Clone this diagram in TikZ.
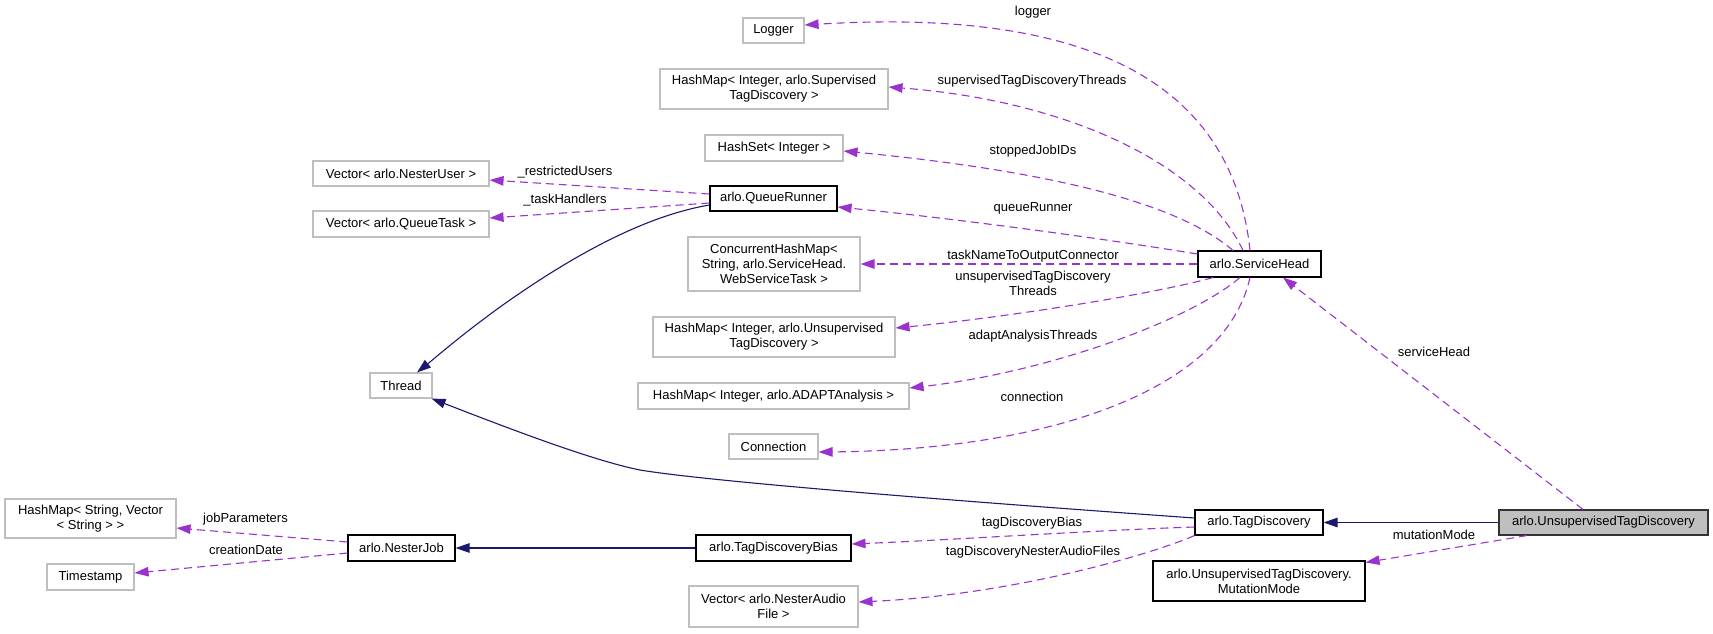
\documentclass[tikz,border=0pt]{standalone}
\usepackage{fontspec}
\setmainfont{Liberation Sans}
\usetikzlibrary{arrows.meta}
\definecolor{usecol}{HTML}{9A32CD}
\definecolor{inhcol}{HTML}{191970}
\definecolor{boxgray}{HTML}{BFBFBF}
\begin{document}
\begin{tikzpicture}[x=1pt,y=-1pt,
  every node/.style={font=\fontsize{13}{15}\selectfont, inner sep=0pt, align=center},
  memb/.style={draw=boxgray, line width=1.1pt, fill=white},
  cls/.style={draw=black, line width=1.1pt, fill=white},
  cur/.style={draw=black!80, line width=1.1pt, fill=boxgray},
  lbl/.style={},
  use/.style={draw=usecol, line width=1.1pt, dash pattern=on 8pt off 5pt, -{Triangle[length=14pt,width=9.5pt,fill=usecol]}},
  inh/.style={draw=inhcol, line width=1.1pt, -{Triangle[length=14pt,width=9.5pt,fill=inhcol]}}]
\useasboundingbox (0,0) rectangle (1713,633);
% nodes
\node[memb, minimum width=61pt, minimum height=25pt] (logger) at (773.5,30.5) {Logger};
\node[memb, minimum width=228pt, minimum height=40pt] (hmsup) at (774,89) {HashMap< Integer, arlo.Supervised\\TagDiscovery >};
\node[memb, minimum width=138pt, minimum height=26pt] (hset) at (774,148) {HashSet< Integer >};
\node[cls, minimum width=127pt, minimum height=25pt] (qrun) at (773.5,198.5) {arlo.QueueRunner};
\node[memb, minimum width=176pt, minimum height=25pt] (vnu) at (401,173.5) {Vector< arlo.NesterUser >};
\node[memb, minimum width=176pt, minimum height=26pt] (vqt) at (401,224) {Vector< arlo.QueueTask >};
\node[memb, minimum width=62pt, minimum height=25pt] (thread) at (401,385.5) {Thread};
\node[memb, minimum width=172pt, minimum height=54pt] (chm) at (774,264) {ConcurrentHashMap<\\String, arlo.ServiceHead.\\WebServiceTask >};
\node[memb, minimum width=242pt, minimum height=40pt] (hmuns) at (774,337) {HashMap< Integer, arlo.Unsupervised\\TagDiscovery >};
\node[memb, minimum width=271pt, minimum height=26pt] (hmadapt) at (773.5,396) {HashMap< Integer, arlo.ADAPTAnalysis >};
\node[memb, minimum width=89pt, minimum height=25pt] (conn) at (773.5,446.5) {Connection};
\node[cls, minimum width=155pt, minimum height=26pt] (tdb) at (773.5,548) {arlo.TagDiscoveryBias};
\node[memb, minimum width=169pt, minimum height=41pt] (vna) at (773.5,606.5) {Vector< arlo.NesterAudio\\File >};
\node[memb, minimum width=171pt, minimum height=39pt] (hmsv) at (90.5,518.5) {HashMap< String, Vector\\< String > >};
\node[memb, minimum width=87pt, minimum height=26pt] (ts) at (90.5,577) {Timestamp};
\node[cls, minimum width=107pt, minimum height=26pt] (nj) at (401.5,548) {arlo.NesterJob};
\node[cls, minimum width=123pt, minimum height=26pt] (sh) at (1259.5,264) {arlo.ServiceHead};
\node[cls, minimum width=128pt, minimum height=25pt] (td) at (1259,522.5) {arlo.TagDiscovery};
\node[cls, minimum width=212pt, minimum height=40pt] (mm) at (1259,581) {arlo.UnsupervisedTagDiscovery.\\MutationMode};
\node[cur, minimum width=209pt, minimum height=25pt] (utd) at (1603.5,522.5) {arlo.UnsupervisedTagDiscovery};
% usage edges from ServiceHead
\draw[use] ([xshift=-9.5pt]sh.north) .. controls (1230,60) and (1050,10) .. ([yshift=5.5pt]logger.east);
\draw[use] ([xshift=-16.5pt]sh.north) .. controls (1200,160) and (1060,100) .. ([yshift=2pt]hmsup.east);
\draw[use] ([xshift=-26.5pt]sh.north) .. controls (1180,205) and (1060,172) .. ([yshift=-3pt]hset.east);
\draw[use] ([yshift=10pt]sh.west) .. controls (1100,238) and (950,218) .. ([yshift=-8.5pt]qrun.east);
\draw[use] (sh.west) -- (chm.east);
\draw[use] ([xshift=-46.5pt]sh.south) .. controls (1150,295) and (1000,318) .. ([yshift=9pt]hmuns.east);
\draw[use] ([xshift=-19.5pt]sh.south) .. controls (1190,320) and (1050,372) .. ([yshift=8pt]hmadapt.east);
\draw[use] ([xshift=-9.5pt]sh.south) .. controls (1225,390) and (1050,450) .. ([yshift=-5.5pt]conn.east);
% other usage edges
\draw[use] ([xshift=-20.5pt]utd.north) -- ([xshift=23.5pt]sh.south);
\draw[use] ([xshift=-76.5pt]utd.south) -- ([yshift=-2pt]mm.north east);
\draw[use] ([yshift=-4.5pt]td.west) .. controls (1100,530) and (950,540) .. ([yshift=4pt]tdb.east);
\draw[use] (td.south west) .. controls (1150,555) and (1010,595) .. ([yshift=4.5pt]vna.east);
\draw[use] ([yshift=4.5pt]qrun.west) -- ([yshift=-6.5pt]vnu.east);
\draw[use] ([yshift=-4.5pt]qrun.west) -- ([yshift=6pt]vqt.east);
\draw[use] ([yshift=6pt]nj.west) -- ([yshift=-9.5pt]hmsv.east);
\draw[use] ([yshift=-5pt]nj.west) -- ([yshift=4pt]ts.east);
% inheritance edges
\draw[inh] (utd.west) -- (td.east);
\draw[inh] ([yshift=4.5pt]td.west) .. controls (900,497) and (700,480) .. (640,470) .. controls (590,460) and (500,425) .. ([xshift=-1pt]thread.south east);
\draw[inh] ([yshift=-6.5pt]qrun.west) .. controls (650,215) and (580,250) .. (500,307) .. controls (460,336) and (435,358) .. ([xshift=16pt]thread.north);
\draw[inh] (tdb.west) -- (nj.east);
% edge labels
\node[lbl] (l1) at (1033,12) {logger};
\node[lbl] (l2) at (1032,81) {supervisedTagDiscoveryThreads};
\node[lbl] (l3) at (1033,151) {stoppedJobIDs};
\node[lbl] (l4) at (1033,208) {queueRunner};
\node[lbl] (l5) at (1033,256) {taskNameToOutputConnector};
\node[lbl] (l6) at (1033,283) {unsupervisedTagDiscovery\\Threads};
\node[lbl] (l7) at (1033,336) {adaptAnalysisThreads};
\node[lbl] (l8) at (1032,397) {connection};
\node[lbl] (l9) at (1434,352) {serviceHead};
\node[lbl] (l10) at (1434,535) {mutationMode};
\node[lbl] (l11) at (1032,523) {tagDiscoveryBias};
\node[lbl] (l12) at (1033,552) {tagDiscoveryNesterAudioFiles};
\node[lbl] (l13) at (565,172) {\_restrictedUsers};
\node[lbl] (l14) at (565,200) {\_taskHandlers};
\node[lbl] (l15) at (245.5,519) {jobParameters};
\node[lbl] (l16) at (246,550) {creationDate};
\end{tikzpicture}
\end{document}
